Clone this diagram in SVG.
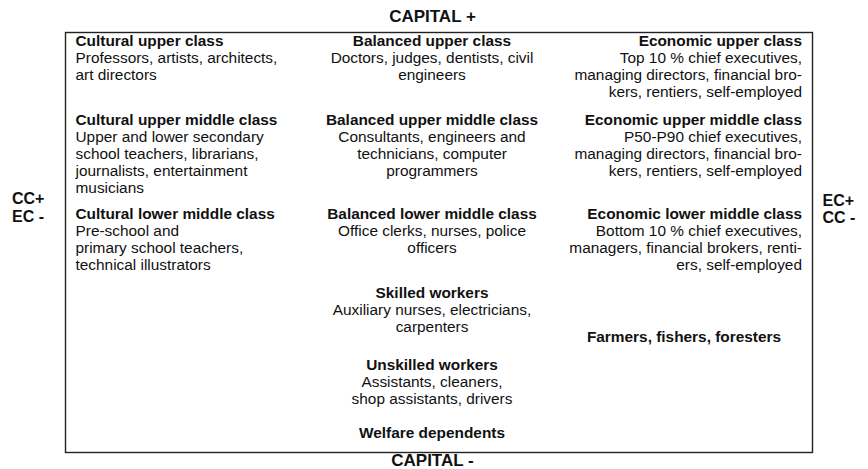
<svg xmlns="http://www.w3.org/2000/svg" width="868" height="469" viewBox="0 0 868 469">
<style>
text{font-family:"Liberation Sans",Arial,sans-serif;fill:#111;}
.b{font-weight:bold;font-size:15.4px;}
.n{font-size:15.4px;}
.ax{font-weight:bold;font-size:17px;}
.sd{font-weight:bold;font-size:16px;}
.l{text-anchor:start;}
.m{text-anchor:middle;}
.r{text-anchor:end;}
</style>
<rect id="frame" x="65.5" y="32.5" width="747" height="420" fill="#fff" stroke="#222" stroke-width="1.4"/>
<g id="axis-top"><text class="ax m" x="432.5" y="22">CAPITAL +</text></g>
<g id="axis-bottom"><text class="ax m" x="432.5" y="465.5">CAPITAL -</text></g>
<g id="axis-left"><text class="sd l" x="12" y="204">CC+</text><text class="sd l" x="12" y="221.5">EC -</text></g>
<g id="axis-right"><text class="sd l" x="822.5" y="206">EC+</text><text class="sd l" x="822.5" y="223">CC -</text></g>

<g id="cultural-upper">
<text class="b l" x="75.5" y="46">Cultural upper class</text>
<text class="n l" x="75.5" y="63">Professors, artists, architects,</text>
<text class="n l" x="75.5" y="80">art directors</text>
</g>
<g id="cultural-upper-middle">
<text class="b l" x="75.5" y="125">Cultural upper middle class</text>
<text class="n l" x="75.5" y="142">Upper and lower secondary</text>
<text class="n l" x="75.5" y="159">school teachers, librarians,</text>
<text class="n l" x="75.5" y="176">journalists, entertainment</text>
<text class="n l" x="75.5" y="193">musicians</text>
</g>
<g id="cultural-lower-middle">
<text class="b l" x="75.5" y="219">Cultural lower middle class</text>
<text class="n l" x="75.5" y="236">Pre-school and</text>
<text class="n l" x="75.5" y="253">primary school teachers,</text>
<text class="n l" x="75.5" y="270">technical illustrators</text>
</g>

<g id="balanced-upper">
<text class="b m" x="432" y="46">Balanced upper class</text>
<text class="n m" x="432" y="63">Doctors, judges, dentists, civil</text>
<text class="n m" x="432" y="80">engineers</text>
</g>
<g id="balanced-upper-middle">
<text class="b m" x="432" y="125">Balanced upper middle class</text>
<text class="n m" x="432" y="142">Consultants, engineers and</text>
<text class="n m" x="432" y="159">technicians, computer</text>
<text class="n m" x="432" y="176">programmers</text>
</g>
<g id="balanced-lower-middle">
<text class="b m" x="432" y="219">Balanced lower middle class</text>
<text class="n m" x="432" y="236">Office clerks, nurses, police</text>
<text class="n m" x="432" y="253">officers</text>
</g>
<g id="skilled-workers">
<text class="b m" x="432" y="298">Skilled workers</text>
<text class="n m" x="432" y="315">Auxiliary nurses, electricians,</text>
<text class="n m" x="432" y="332">carpenters</text>
</g>
<g id="unskilled-workers">
<text class="b m" x="432" y="369.5">Unskilled workers</text>
<text class="n m" x="432" y="386.5">Assistants, cleaners,</text>
<text class="n m" x="432" y="403.5">shop assistants, drivers</text>
</g>
<g id="welfare-dependents">
<text class="b m" x="432" y="438">Welfare dependents</text>
</g>

<g id="economic-upper">
<text class="b r" x="802" y="46">Economic upper class</text>
<text class="n r" x="802" y="63">Top 10 % chief executives,</text>
<text class="n r" x="802" y="80">managing directors, financial bro-</text>
<text class="n r" x="802" y="97">kers, rentiers, self-employed</text>
</g>
<g id="economic-upper-middle">
<text class="b r" x="802" y="124.5">Economic upper middle class</text>
<text class="n r" x="802" y="141.5">P50-P90 chief executives,</text>
<text class="n r" x="802" y="158.5">managing directors, financial bro-</text>
<text class="n r" x="802" y="175.5">kers, rentiers, self-employed</text>
</g>
<g id="economic-lower-middle">
<text class="b r" x="802" y="219">Economic lower middle class</text>
<text class="n r" x="802" y="236">Bottom 10 % chief executives,</text>
<text class="n r" x="802" y="253">managers, financial brokers, renti-</text>
<text class="n r" x="802" y="270">ers, self-employed</text>
</g>
<g id="farmers">
<text class="b m" x="684" y="341.5">Farmers, fishers, foresters</text>
</g>
</svg>
